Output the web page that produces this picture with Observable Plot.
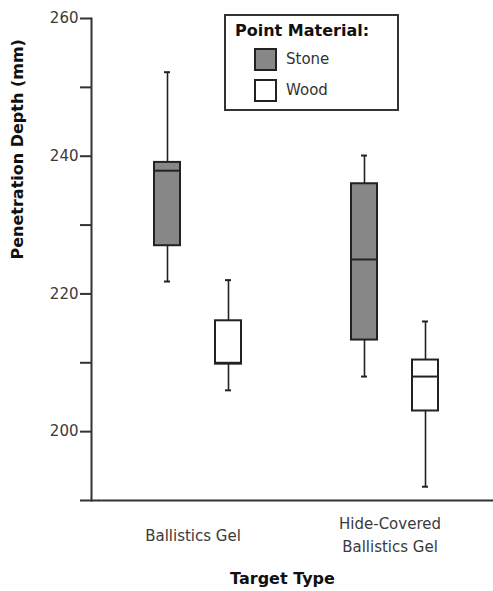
<!DOCTYPE html>
<html>
<head>
<meta charset="utf-8">
<script src="https://cdn.jsdelivr.net/npm/d3@7"></script>
<script src="https://cdn.jsdelivr.net/npm/@observablehq/plot@0.6"></script>
<style>
  html, body { margin: 0; padding: 0; background: #fff; overflow: hidden; }
  #wrap { position: relative; width: 493px; height: 591px; overflow: hidden; }
  #legend { position: absolute; left: 224px; top: 14px; width: 175px; height: 97px; box-sizing: border-box;
    border: 2px solid #333; background: #fff; font-family: "DejaVu Sans", sans-serif; color: #333; }
  #legend .title { position: absolute; left: 9px; top: 5px; font-weight: bold; font-size: 16px; color: #111; }
  #legend .item { position: absolute; left: 28px; height: 22px; display: flex; align-items: center; font-size: 15px; }
  #legend .sw { width: 19px; height: 19px; border: 2px solid #222; margin-right: 9px; }
</style>
</head>
<body>
<div id="wrap"><div id="chart"></div><div id="legend"></div></div>
<script>
const targets = ["Ballistics Gel", "Hide-Covered Ballistics Gel"];
const targetLabels = ["Ballistics Gel", "Hide-Covered\nBallistics Gel"];
const materials = ["Stone", "Wood"];
const materialColors = ["#878787", "#ffffff"];
const rowTarget = ["Ballistics Gel", "Ballistics Gel", "Hide-Covered Ballistics Gel", "Hide-Covered Ballistics Gel"];
const rowMaterial = ["Stone", "Wood", "Stone", "Wood"];
const whiskerLow = [221.8, 206.0, 208.0, 192.0];
const q1 = [227.0, 209.8, 213.3, 203.0];
const median = [237.9, 210.0, 225.0, 208.0];
const q3 = [239.1, 216.1, 236.0, 210.4];
const whiskerHigh = [252.2, 222.0, 240.1, 216.0];
const yBase = [190];
const yTicks = [200, 210, 220, 230, 240, 250, 260];
const yLabels = [200, 220, 240, 260];
const yTitle = "Penetration Depth (mm)";
const xTitle = "Target Type";
const legendTitle = "Point Material:";

const rows = rowTarget.map((t, i) => ({
  target: t, material: rowMaterial[i],
  low: whiskerLow[i], q1: q1[i], median: median[i], q3: q3[i], high: whiskerHigh[i]
}));

const ink = "#222";
const axisInk = "#333";
const chart = Plot.plot({
  width: 493, height: 591,
  marginLeft: 98, marginRight: 0, marginTop: 18, marginBottom: 91,
  style: { fontFamily: "DejaVu Sans, sans-serif", background: "#fff" },
  fx: { domain: targets, paddingInner: 0, paddingOuter: 0, axis: null },
  x: { domain: materials, paddingInner: 0.58, paddingOuter: 0.883, axis: null },
  y: { domain: [190, 260] },
  color: { domain: materials, range: materialColors },
  marks: [
    Plot.frame({ anchor: "left", facet: "super", stroke: axisInk, strokeWidth: 2, dx: -8 }),
    Plot.frame({ anchor: "bottom", facet: "super", stroke: axisInk, strokeWidth: 2 }),
    Plot.axisY({ ticks: yBase, tickSize: 19, tickFormat: () => "", stroke: axisInk, strokeWidth: 2 }),
    Plot.axisY({ ticks: yTicks, tickSize: 11, dx: -8, tickFormat: () => "", stroke: axisInk, strokeWidth: 2 }),
    Plot.axisY({ ticks: yLabels, tickSize: 0, tickPadding: 13, dx: -8, fontSize: 15, fill: "#3a3a3a" }),
    Plot.ruleX(rows, { fx: "target", x: "material", y1: "low", y2: "high", stroke: ink, strokeWidth: 1.6 }),
    Plot.tickY(rows, { fx: "target", x: "material", y: "low", inset: 10, stroke: ink, strokeWidth: 2 }),
    Plot.tickY(rows, { fx: "target", x: "material", y: "high", inset: 10, stroke: ink, strokeWidth: 2 }),
    Plot.barY(rows, { fx: "target", x: "material", y1: "q1", y2: "q3", fill: "material", stroke: ink, strokeWidth: 2 }),
    Plot.tickY(rows, { fx: "target", x: "material", y: "median", inset: 1, stroke: ink, strokeWidth: 2 }),
    Plot.text(targets, { fx: d => d, text: (d, i) => targetLabels[i], frameAnchor: "bottom", dy: 33, dx: -5,
      lineAnchor: "middle", lineHeight: 1.5, fontSize: 15, fill: "#3a3a3a" }),
    Plot.text([xTitle], { facet: "super", frameAnchor: "bottom", dy: 83, dx: -14, fontSize: 16, fontWeight: "bold", fill: "#111" }),
    Plot.text([yTitle], { facet: "super", frameAnchor: "left", dx: -82, rotate: -90, fontSize: 16, fontWeight: "bold", fill: "#111" })
  ]
});
document.getElementById("chart").appendChild(chart);

const legend = document.getElementById("legend");
const t = document.createElement("div");
t.className = "title"; t.textContent = legendTitle; legend.appendChild(t);
materials.forEach((m, i) => {
  const it = document.createElement("div");
  it.className = "item"; it.style.top = (32 + i * 31) + "px";
  const sw = document.createElement("div"); sw.className = "sw"; sw.style.background = materialColors[i];
  it.appendChild(sw);
  const lab = document.createElement("span"); lab.textContent = m; it.appendChild(lab);
  legend.appendChild(it);
});
</script>
</body>
</html>
